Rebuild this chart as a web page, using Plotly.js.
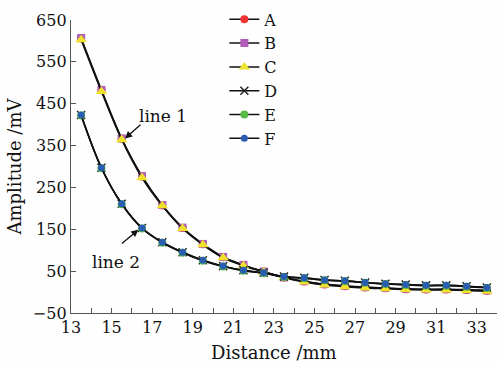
<!DOCTYPE html>
<html><head><meta charset="utf-8">
<script src="https://cdn.plot.ly/plotly-3.0.1.min.js"></script>
<style>html,body{margin:0;padding:0;background:#fefefe}</style>
</head><body><div id="chart" style="width:499px;height:365px"></div>
<script>
const distance = [13.5,14.5,15.5,16.5,17.5,18.5,19.5,20.5,21.5,22.5,23.5,24.5,25.5,26.5,27.5,28.5,29.5,30.5,31.5,32.5,33.5];
const seriesA = [606,482,366,276,207,153,114,83,64,49,35,25,18,14,11,9,7,6,6,5,3];
const seriesB = [607,483,367,277,208,154,115,84,65,49,35,26,19,15,12,10,8,7,7,6,4];
const seriesC = [603,479,364,273,206,152,113,82,63,48,34,24,17,13,10,8,6,5,5,4,2];
const seriesD = [423,297,211,153,119,95,76,62,52,46,37,34,29,27,23,20,18,16,16,14,11];
const seriesE = [422,296,210,152,118,94,75,61,51,45,36,33,28,26,22,19,17,15,15,13,10];
const seriesF = [423,297,211,153,119,95,76,62,52,46,37,34,29,27,23,20,18,16,16,14,11];
const names = ['A','B','C','D','E','F'];
const xTicks = [13,15,17,19,21,23,25,27,29,31,33];
const yTicks = [-50,50,150,250,350,450,550,650];

const FONT = 'DejaVu Serif, serif';
const styles = [
  {color:'#ee3333', symbol:'circle', size:8},
  {color:'#b05cb8', symbol:'square', size:8},
  {color:'#eee22a', symbol:'triangle-up', size:10},
  {color:'#222222', symbol:'x-thin-open', size:8},
  {color:'#55bb44', symbol:'circle', size:8},
  {color:'#2a5db0', symbol:'circle', size:7}
];
const values = [seriesA, seriesB, seriesC, seriesD, seriesE, seriesF];
const traces = values.map((v,i)=>({
  x: distance, y: v, name: names[i], type:'scatter', mode:'lines+markers',
  line:{color:'#111', width:1.5, shape:'spline'},
  marker:{color:styles[i].color, symbol:styles[i].symbol, size:styles[i].size,
          line:{color:styles[i].color, width: i===3 ? 1.5 : 0}}
}));

const layout = {
  width:499, height:365,
  margin:{l:71, r:2, t:14, b:52},
  paper_bgcolor:'#fefefe', plot_bgcolor:'#fefefe',
  font:{family:FONT, size:16, color:'#111'},
  showlegend:true,
  legend:{x:0.36, y:1.06, xanchor:'left', yanchor:'top', bgcolor:'rgba(0,0,0,0)',
          font:{family:FONT, size:16, color:'#111'}},
  xaxis:{range:[13,34], tickvals:xTicks, ticktext:xTicks.map(String),
         ticks:'inside', ticklen:5, tickcolor:'#555',
         minor:{dtick:1, tick0:13, ticks:'inside', ticklen:5, tickcolor:'#555'},
         showline:true, linecolor:'#555', linewidth:1.2, showgrid:false, zeroline:false,
         tickfont:{family:FONT, size:16, color:'#111'}},
  yaxis:{range:[-50,650], tickvals:yTicks, ticktext:yTicks.map(v=>v<0?'\u2212'+Math.abs(v):String(v)),
         ticks:'inside', ticklen:5, tickcolor:'#555',
         showline:true, linecolor:'#555', linewidth:1.2, showgrid:false, zeroline:false,
         tickfont:{family:FONT, size:16, color:'#111'},
         title:{text:'Amplitude /mV', font:{family:FONT, size:18, color:'#111'}, standoff:6}},
  annotations:[
    {x:15.66, y:367, xref:'x', yref:'y', text:' ', font:{size:1},
     showarrow:true, ax:17, ay:-15, arrowhead:2, arrowsize:1.1, arrowwidth:1.3, arrowcolor:'#111', standoff:0},
    {x:16.32, y:149, xref:'x', yref:'y', text:' ', font:{size:1},
     showarrow:true, ax:-18, ay:15, arrowhead:2, arrowsize:1.1, arrowwidth:1.3, arrowcolor:'#111', standoff:0},
    {x:17.54, y:421, xref:'x', yref:'y', text:'line 1', showarrow:false,
     font:{family:FONT, size:17, color:'#111'}},
    {x:15.22, y:72, xref:'x', yref:'y', text:'line 2', showarrow:false,
     font:{family:FONT, size:17, color:'#111'}},
    {x:(274-71)/426, y:-0.134, xref:'paper', yref:'paper', xanchor:'center', yanchor:'middle',
     text:'Distance /mm', showarrow:false, font:{family:FONT, size:18, color:'#111'}}
  ]
};
Plotly.newPlot('chart', traces, layout, {displayModeBar:false, staticPlot:true});
</script></body></html>
